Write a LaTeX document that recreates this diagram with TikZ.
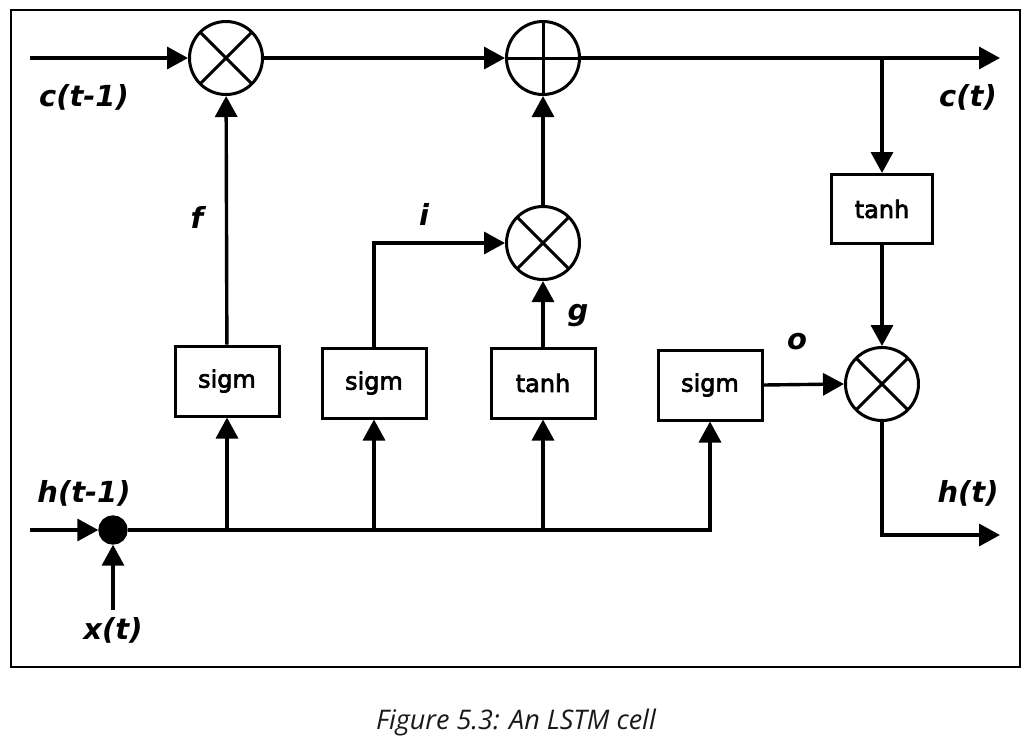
\documentclass[tikz,border=0pt]{standalone}
\usepackage{fontspec}
\setmainfont{DejaVu Sans}
\newfontfamily\capfont{Open Sans}
\newfontfamily\gatefont[FakeBold=3]{DejaVu Sans}
\usetikzlibrary{arrows.meta}
\begin{document}
\begin{tikzpicture}[x=1pt, y=-1pt, line width=3.4pt,
    every node/.style = {inner sep=0pt},
    gate/.style = {draw, line width=3pt, minimum width=104pt, minimum height=70pt, font=\gatefont\fontsize{24}{24}\selectfont},
    mult/.style = {draw, circle, line width=3pt, minimum size=73pt,
        path picture = {\draw (path picture bounding box.south west) -- (path picture bounding box.north east)
            (path picture bounding box.north west) -- (path picture bounding box.south east);}},
    plus/.style = {draw, circle, line width=3pt, minimum size=73pt,
        path picture = {\draw (path picture bounding box.south) -- (path picture bounding box.north)
            (path picture bounding box.west) -- (path picture bounding box.east);}},
    lbl/.style = {font=\fontsize{29}{29}\selectfont\bfseries\itshape},
    >={Triangle[length=21pt, width=22pt]}]
    \useasboundingbox (0,0) rectangle (1033,750);
    \draw[line width=2pt] (11,10) rectangle (1020,667);
    \coordinate (cin) at (30,58);
    \coordinate (cout) at (1000,58);
    \coordinate (hin) at (30,530);
    \coordinate (xin) at (113,610);
    \coordinate (hout) at (1000,535);
    \node[mult] (m1) at (226,58) {};
    \node[plus] (pl) at (543,58) {};
    \node[mult] (m2) at (543,243) {};
    \node[mult] (m3) at (882,384) {};
    \node[gate] (s1) at (227,381) {sigm};
    \node[gate] (s2) at (374,383) {sigm};
    \node[gate] (tb) at (543,383) {tanh};
    \node[gate] (s3) at (710,385) {sigm};
    \node[gate, minimum width=101pt, minimum height=69pt] (tc) at (882,209) {tanh};
    \node[draw, circle, fill, minimum size=26pt] (dot) at (113,530) {};
    \node[lbl] at (84,97) {c(t-1)};
    \node[lbl] at (968,97) {c(t)};
    \node[lbl] at (84,493) {h(t-1)};
    \node[lbl] at (968,493) {h(t)};
    \node[lbl] at (113,630) {x(t)};
    \node[lbl] at (197,217) {f};
    \node[lbl] at (424,214) {i};
    \node[lbl] at (578,316) {g};
    \node[lbl] at (797,342) {o};
    \node[font=\capfont\fontsize{27}{27}\selectfont\itshape, text=black!90] at (516,722) {Figure 5.3: An LSTM cell};
    \draw[->] (cin) -- (m1);
    \draw[->] (m1) -- (pl);
    \draw[->] (pl) -- (cout);
    \draw[->] (tc.north |- cout) -- (tc.north);
    \draw[->] (tc) -- (m3);
    \draw[->] (m3.south) |- (hout);
    \draw[->] (hin) -- (dot);
    \draw[->] (xin) -- (dot);
    \draw[->] (dot) -| (s3.south);
    \draw[->] (s1.south |- dot) -- (s1.south);
    \draw[->] (s2.south |- dot) -- (s2.south);
    \draw[->] (tb.south |- dot) -- (tb.south);
    \draw[->] (s1) -- (m1);
    \draw[->] (s2.north) |- (m2.west);
    \draw[->] (tb) -- (m2);
    \draw[->] (m2) -- (pl);
    \draw[->] (s3.east) -- (m3.west);
\end{tikzpicture}
\end{document}
